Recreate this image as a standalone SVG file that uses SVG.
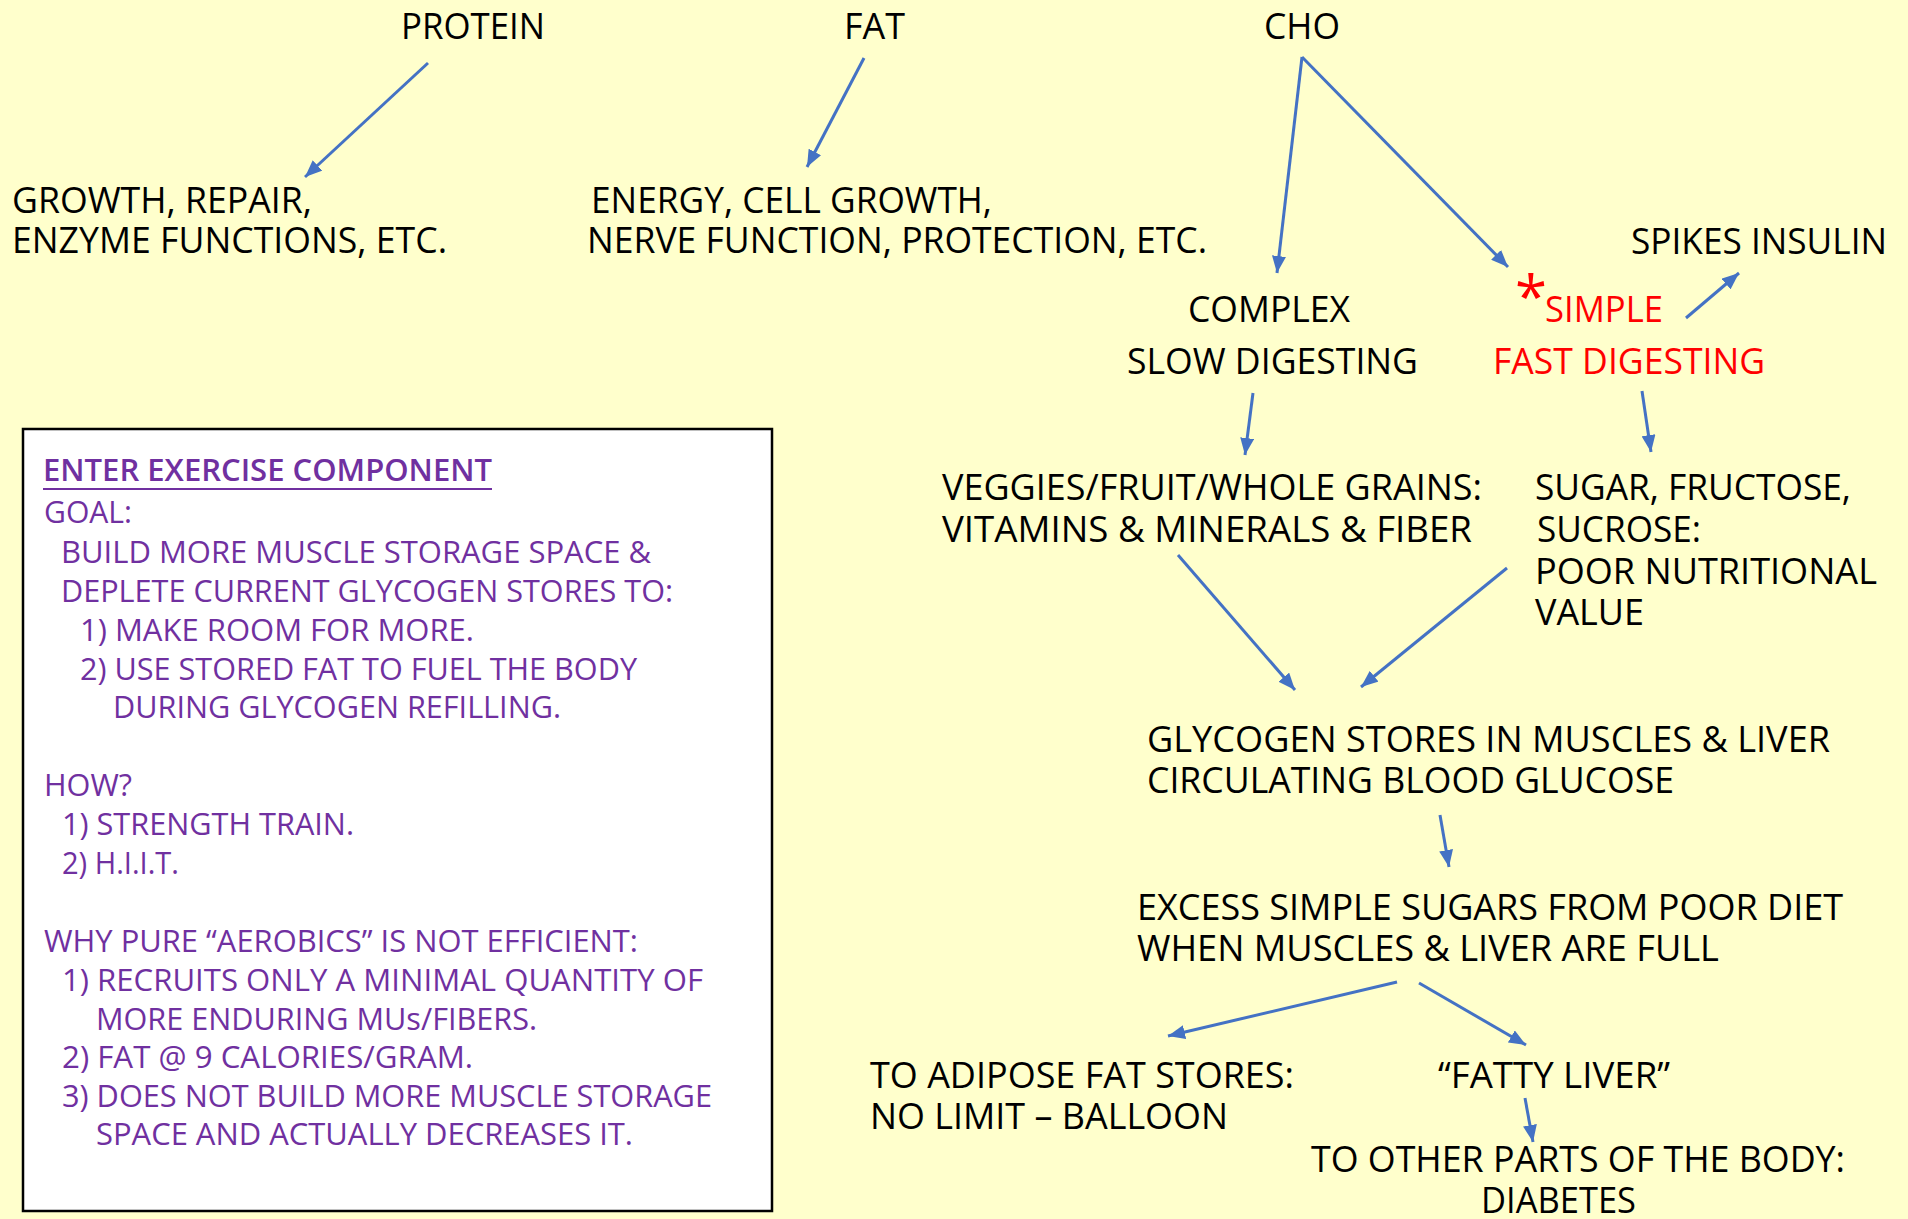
<svg xmlns="http://www.w3.org/2000/svg" width="1908" height="1219" viewBox="0 0 1908 1219">
<style>
text{font-family:"Open Sans","Noto Sans","Liberation Sans",sans-serif}
.m{font-size:36px;fill:#000}
.r{font-size:36px;fill:#FF0000}
.b{font-size:31px;fill:#7030A0}
.h{font-size:31px;fill:#7030A0;font-weight:600}
.c{stroke:#4472C4;stroke-width:3;fill:none;marker-end:url(#ah)}
</style>
<defs>
<marker id="ah" markerUnits="userSpaceOnUse" markerWidth="18" markerHeight="14" refX="17" refY="7" orient="auto">
<path d="M0,0 L17,7 L0,14 z" fill="#4472C4"/>
</marker>
</defs>
<rect x="0" y="0" width="1908" height="1219" fill="#FFFFCC"/>

<g id="connectors">
<line class="c" x1="428" y1="63" x2="305" y2="177"/>
<line class="c" x1="864" y1="58" x2="807" y2="167"/>
<line class="c" x1="1302" y1="57" x2="1277" y2="273"/>
<line class="c" x1="1302" y1="57" x2="1508" y2="267"/>
<line class="c" x1="1686" y1="318" x2="1739" y2="273"/>
<line class="c" x1="1253" y1="393" x2="1245" y2="455"/>
<line class="c" x1="1642" y1="391" x2="1651" y2="452"/>
<line class="c" x1="1178" y1="555" x2="1295" y2="690"/>
<line class="c" x1="1507" y1="568" x2="1361" y2="687"/>
<line class="c" x1="1440" y1="815" x2="1449" y2="867"/>
<line class="c" x1="1397" y1="982" x2="1168" y2="1036"/>
<line class="c" x1="1419" y1="983" x2="1526" y2="1045"/>
<line class="c" x1="1525" y1="1098" x2="1533" y2="1142"/>
</g>

<g id="protein"><text class="m" x="401" y="39" textLength="144" lengthAdjust="spacingAndGlyphs">PROTEIN</text></g>
<g id="fat"><text class="m" x="844" y="39" textLength="61" lengthAdjust="spacingAndGlyphs">FAT</text></g>
<g id="cho"><text class="m" x="1264" y="39" textLength="76" lengthAdjust="spacingAndGlyphs">CHO</text></g>

<g id="protein-use">
<text class="m" x="12" y="213" textLength="300" lengthAdjust="spacingAndGlyphs">GROWTH, REPAIR,</text>
<text class="m" x="12" y="253" textLength="435" lengthAdjust="spacingAndGlyphs">ENZYME FUNCTIONS, ETC.</text>
</g>
<g id="fat-use">
<text class="m" x="591" y="213" textLength="401" lengthAdjust="spacingAndGlyphs">ENERGY, CELL GROWTH,</text>
<text class="m" x="587" y="253" textLength="620" lengthAdjust="spacingAndGlyphs">NERVE FUNCTION, PROTECTION, ETC.</text>
</g>
<g id="complex">
<text class="m" x="1188" y="322" textLength="162" lengthAdjust="spacingAndGlyphs">COMPLEX</text>
<text class="m" x="1127" y="374" textLength="291" lengthAdjust="spacingAndGlyphs">SLOW DIGESTING</text>
</g>
<g id="simple">
<text class="r" x="1515" y="318" style="font-size:58px">*</text>
<text class="r" x="1545" y="322" textLength="118" lengthAdjust="spacingAndGlyphs">SIMPLE</text>
<text class="r" x="1493" y="374" textLength="272" lengthAdjust="spacingAndGlyphs">FAST DIGESTING</text>
</g>
<g id="spikes"><text class="m" x="1631" y="254" textLength="256" lengthAdjust="spacingAndGlyphs">SPIKES INSULIN</text></g>
<g id="veggies">
<text class="m" x="942" y="500" textLength="540" lengthAdjust="spacingAndGlyphs">VEGGIES/FRUIT/WHOLE GRAINS:</text>
<text class="m" x="942" y="542" textLength="530" lengthAdjust="spacingAndGlyphs">VITAMINS &amp; MINERALS &amp; FIBER</text>
</g>
<g id="sugar">
<text class="m" x="1535" y="500" textLength="316" lengthAdjust="spacingAndGlyphs">SUGAR, FRUCTOSE,</text>
<text class="m" x="1537" y="542" textLength="164" lengthAdjust="spacingAndGlyphs">SUCROSE:</text>
<text class="m" x="1535" y="584" textLength="342" lengthAdjust="spacingAndGlyphs">POOR NUTRITIONAL</text>
<text class="m" x="1535" y="625" textLength="109" lengthAdjust="spacingAndGlyphs">VALUE</text>
</g>
<g id="glycogen">
<text class="m" x="1147" y="752" textLength="683" lengthAdjust="spacingAndGlyphs">GLYCOGEN STORES IN MUSCLES &amp; LIVER</text>
<text class="m" x="1147" y="793" textLength="527" lengthAdjust="spacingAndGlyphs">CIRCULATING BLOOD GLUCOSE</text>
</g>
<g id="excess">
<text class="m" x="1137" y="920" textLength="706" lengthAdjust="spacingAndGlyphs">EXCESS SIMPLE SUGARS FROM POOR DIET</text>
<text class="m" x="1137" y="961" textLength="582" lengthAdjust="spacingAndGlyphs">WHEN MUSCLES &amp; LIVER ARE FULL</text>
</g>
<g id="adipose">
<text class="m" x="870" y="1088" textLength="424" lengthAdjust="spacingAndGlyphs">TO ADIPOSE FAT STORES:</text>
<text class="m" x="870" y="1129" textLength="358" lengthAdjust="spacingAndGlyphs">NO LIMIT – BALLOON</text>
</g>
<g id="fatty-liver"><text class="m" x="1438" y="1088" textLength="232" lengthAdjust="spacingAndGlyphs">“FATTY LIVER”</text></g>
<g id="other-parts">
<text class="m" x="1311" y="1172" textLength="534" lengthAdjust="spacingAndGlyphs">TO OTHER PARTS OF THE BODY:</text>
<text class="m" x="1481" y="1213" textLength="155" lengthAdjust="spacingAndGlyphs">DIABETES</text>
</g>

<g id="exercise-box">
<rect x="23" y="429" width="749" height="782" fill="#FFFFFF" stroke="#000" stroke-width="2.5"/>
<text class="h" x="43" y="481" textLength="449" lengthAdjust="spacingAndGlyphs">ENTER EXERCISE COMPONENT</text>
<line x1="43" y1="489" x2="492" y2="489" stroke="#7030A0" stroke-width="2"/>
<text class="b" x="44" y="523" textLength="88" lengthAdjust="spacingAndGlyphs">GOAL:</text>
<text class="b" x="61" y="563" textLength="590" lengthAdjust="spacingAndGlyphs">BUILD MORE MUSCLE STORAGE SPACE &amp;</text>
<text class="b" x="61" y="602" textLength="612" lengthAdjust="spacingAndGlyphs">DEPLETE CURRENT GLYCOGEN STORES TO:</text>
<text class="b" x="80" y="641" textLength="394" lengthAdjust="spacingAndGlyphs">1) MAKE ROOM FOR MORE.</text>
<text class="b" x="80" y="680" textLength="557" lengthAdjust="spacingAndGlyphs">2) USE STORED FAT TO FUEL THE BODY</text>
<text class="b" x="113" y="718" textLength="448" lengthAdjust="spacingAndGlyphs">DURING GLYCOGEN REFILLING.</text>
<text class="b" x="44" y="796" textLength="88" lengthAdjust="spacingAndGlyphs">HOW?</text>
<text class="b" x="62" y="835" textLength="292" lengthAdjust="spacingAndGlyphs">1) STRENGTH TRAIN.</text>
<text class="b" x="62" y="874" textLength="117" lengthAdjust="spacingAndGlyphs">2) H.I.I.T.</text>
<text class="b" x="44" y="952" textLength="594" lengthAdjust="spacingAndGlyphs">WHY PURE “AEROBICS” IS NOT EFFICIENT:</text>
<text class="b" x="62" y="991" textLength="641" lengthAdjust="spacingAndGlyphs">1) RECRUITS ONLY A MINIMAL QUANTITY OF</text>
<text class="b" x="96" y="1030" textLength="441" lengthAdjust="spacingAndGlyphs">MORE ENDURING MUs/FIBERS.</text>
<text class="b" x="62" y="1068" textLength="411" lengthAdjust="spacingAndGlyphs">2) FAT @ 9 CALORIES/GRAM.</text>
<text class="b" x="62" y="1107" textLength="650" lengthAdjust="spacingAndGlyphs">3) DOES NOT BUILD MORE MUSCLE STORAGE</text>
<text class="b" x="96" y="1145" textLength="537" lengthAdjust="spacingAndGlyphs">SPACE AND ACTUALLY DECREASES IT.</text>
</g>
</svg>
